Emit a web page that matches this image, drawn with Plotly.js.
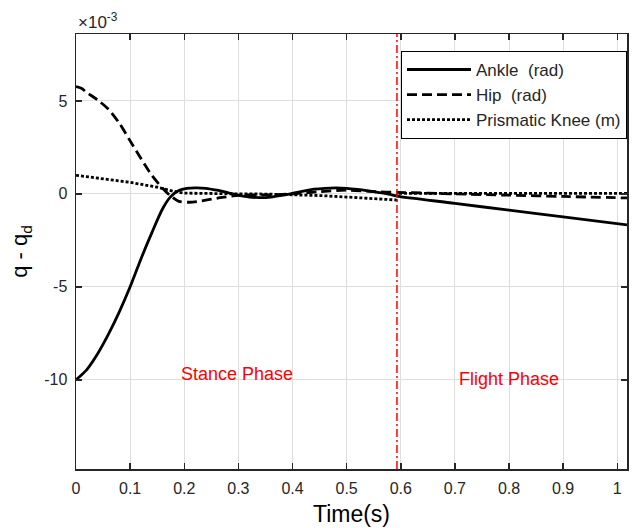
<!DOCTYPE html>
<html>
<head>
<meta charset="utf-8">
<script src="https://cdn.plot.ly/plotly-3.0.1.min.js"></script>
<style>html,body{margin:0;padding:0;background:#fff;}#chart{width:635px;height:528px;}</style>
</head>
<body>
<div id="chart"></div>
<script>
// values in units of 1e-3
const ankleT = [0.000,0.020,0.040,0.060,0.080,0.100,0.120,0.140,0.160,0.175,0.190,0.205,0.220,0.240,0.260,0.280,0.300,0.320,0.340,0.360,0.380,0.400,0.420,0.440,0.460,0.480,0.500,0.520,0.540,0.560,0.580,0.593,0.700,0.800,0.900,1.018];
const ankleY = [-10.0,-9.45,-8.60,-7.55,-6.35,-5.00,-3.50,-2.10,-0.80,-0.15,0.18,0.29,0.32,0.30,0.20,0.07,-0.07,-0.17,-0.20,-0.17,-0.08,0.03,0.15,0.25,0.30,0.32,0.30,0.24,0.16,0.07,-0.03,-0.12,-0.51,-0.88,-1.24,-1.67];

const hipT = [0.000,0.010,0.020,0.040,0.060,0.080,0.100,0.120,0.140,0.160,0.175,0.190,0.210,0.240,0.270,0.300,0.330,0.360,0.400,0.450,0.500,0.550,0.593,0.650,0.700,0.800,0.900,1.018];
const hipY = [5.77,5.68,5.45,5.05,4.55,3.80,2.85,1.90,1.00,0.30,-0.12,-0.40,-0.45,-0.34,-0.19,-0.08,-0.05,-0.05,0.00,0.12,0.20,0.12,0.08,0.04,0.00,-0.07,-0.14,-0.22];

const kneeT = [0.000,0.050,0.100,0.150,0.180,0.200,0.250,0.300,0.350,0.400,0.450,0.500,0.550,0.592,0.595,0.700,0.800,0.900,1.018];
const kneeY = [1.00,0.82,0.62,0.36,0.14,0.04,0.01,0.00,-0.01,-0.03,-0.09,-0.17,-0.26,-0.33,0.03,0.03,0.03,0.03,0.03];

const phaseT = [0.593, 0.593];
const phaseY = [-14.8, 8.6];

const xTicks = [0,0.1,0.2,0.3,0.4,0.5,0.6,0.7,0.8,0.9,1];
const xTickText = ['0','0.1','0.2','0.3','0.4','0.5','0.6','0.7','0.8','0.9','1'];
const yTicks = [-10,-5,0,5];
const yTickText = ['-10','-5','0','5'];

const FONT = 'Liberation Sans, Arial, Helvetica, sans-serif';
const AX = '#262626';

const traces = [
  {x: ankleT, y: ankleY, mode: 'lines', name: 'Ankle  (rad)',
   line: {color: '#000', width: 2.8, shape: 'spline', smoothing: 0.8}},
  {x: hipT, y: hipY, mode: 'lines', name: 'Hip  (rad)',
   line: {color: '#000', width: 2.8, dash: '10px,5px', shape: 'spline', smoothing: 0.8}},
  {x: kneeT, y: kneeY, mode: 'lines', name: 'Prismatic Knee (m)',
   line: {color: '#000', width: 2.8, dash: '3px,2px'}},
  {x: phaseT, y: phaseY, mode: 'lines', showlegend: false, hoverinfo: 'skip',
   line: {color: '#ff0000', width: 1.5, dash: '8px,3px,2px,3px'}}
];

const layout = {
  width: 635, height: 528,
  margin: {l: 76, r: 8, t: 34, b: 59, pad: 0},
  paper_bgcolor: '#fff', plot_bgcolor: '#fff',
  font: {family: FONT, size: 15, color: AX},
  showlegend: true,
  legend: {x: 1, xanchor: 'right', y: 0.961, yanchor: 'top',
           bgcolor: '#fff', bordercolor: '#000', borderwidth: 1,
           font: {family: FONT, size: 17, color: AX}, itemwidth: 64},
  xaxis: {range: [0, 1.018], tickvals: xTicks, ticktext: xTickText,
          ticks: 'inside', ticklen: 6, tickwidth: 1.5, tickcolor: AX,
          showline: true, mirror: 'ticks', linecolor: AX, linewidth: 1.5,
          showgrid: true, gridcolor: '#dedede', gridwidth: 1, zeroline: false,
          ticklabelstandoff: 4,
          tickfont: {family: FONT, size: 16, color: AX},
          title: {text: 'Time(s)', font: {family: FONT, size: 23, color: '#000'}, standoff: 10}},
  yaxis: {range: [-14.8, 8.6], tickvals: yTicks, ticktext: yTickText,
          ticks: 'inside', ticklen: 6, tickwidth: 1.5, tickcolor: AX,
          showline: true, mirror: 'ticks', linecolor: AX, linewidth: 1.5,
          showgrid: true, gridcolor: '#dedede', gridwidth: 1, zeroline: false,
          ticklabelstandoff: 4,
          tickfont: {family: FONT, size: 16, color: AX},
          title: {text: 'q - q<sub>d</sub>', font: {family: FONT, size: 22, color: '#000'}, standoff: 10}},
  annotations: [
    {text: '×10<sup>-3</sup>', xref: 'paper', yref: 'paper', x: 0, y: 1,
     xanchor: 'left', yanchor: 'bottom', yshift: 0, showarrow: false,
     font: {family: FONT, size: 17, color: AX}},
    {text: 'Stance Phase', xref: 'x', yref: 'y', x: 0.298, y: -9.7,
     showarrow: false, font: {family: FONT, size: 18, color: '#ff0000'}},
    {text: 'Flight Phase', xref: 'x', yref: 'y', x: 0.80, y: -9.95,
     showarrow: false, font: {family: FONT, size: 18, color: '#ff0000'}}
  ]
};

Plotly.newPlot('chart', traces, layout, {displayModeBar: false, staticPlot: true});
</script>
</body>
</html>
